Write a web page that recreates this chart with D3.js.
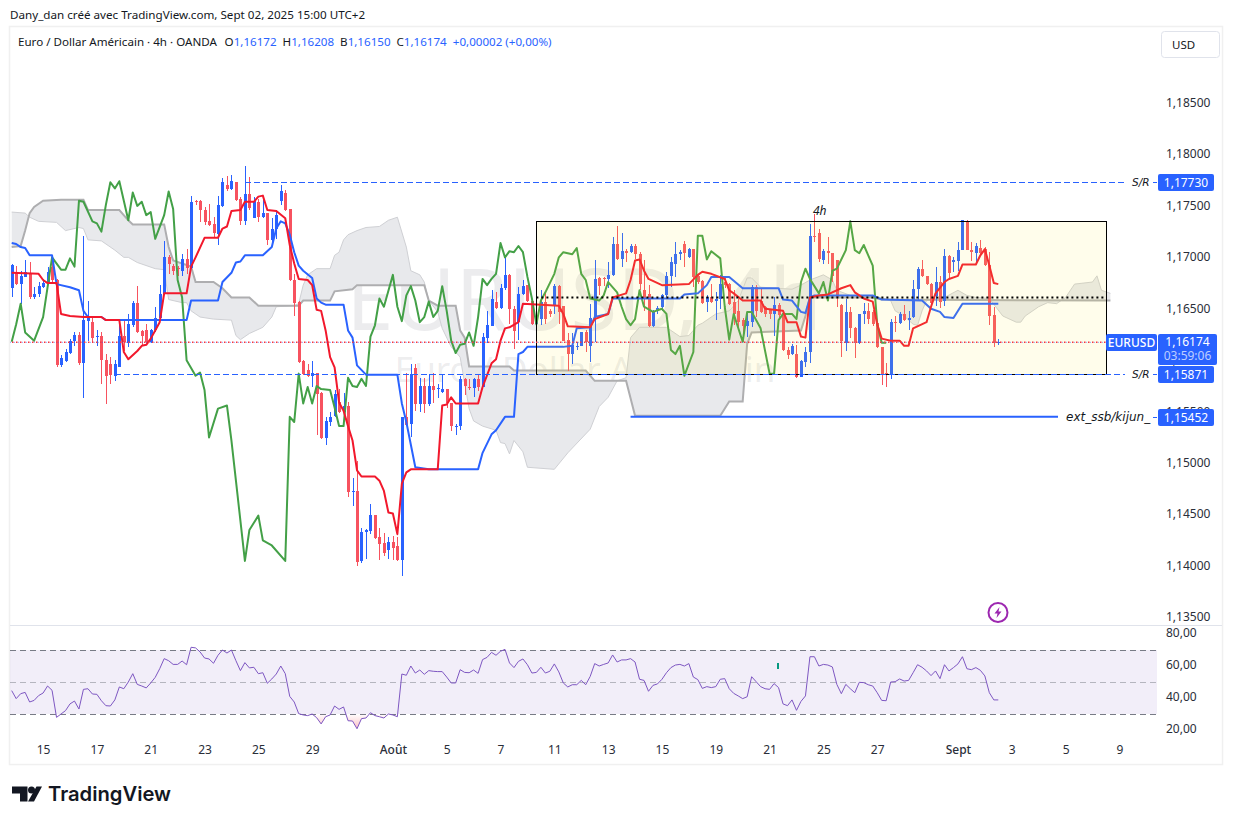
<!DOCTYPE html>
<html>
<head>
<meta charset="utf-8">
<script src="https://cdn.jsdelivr.net/npm/d3@7"></script>
<style>
  html, body { margin: 0; padding: 0; background: #fff; }
  text { font-family: "Noto Sans", sans-serif; }
</style>
</head>
<body>
<svg id="chart" width="1233" height="824"></svg>
<script>
const lastPrice = 1.16174;
const srTop = 1.1773;
const srBottom = 1.15871;
const extLevel = 1.15452;
const rangeTop = 1.1736;
const midLevel = 1.1661;

const priceTicks = [1.185, 1.18, 1.175, 1.17, 1.165, 1.16, 1.155, 1.15, 1.145, 1.14, 1.135];
const rsiTicks = [80, 60, 40, 20];
const timeTickBars = [7, 19, 31, 43, 55, 67, 85, 97, 109, 121, 133, 145, 157, 169, 181, 193, 211, 223, 235, 247];
const timeTickLabels = ['15', '17', '21', '23', '25', '29', 'Août', '5', '7', '11', '13', '15', '19', '21', '25', '27', 'Sept', '3', '5', '9'];

// open, high, low, close, one row per 4h bar
const candles = [
  [1.1670,1.1694,1.1661,1.1693],[1.1686,1.1692,1.1673,1.1674],[1.1674,1.1687,1.1655,1.1682],[1.1681,1.1697,1.1681,1.1686],[1.1685,1.1695,1.1660,1.1661],
  [1.1661,1.1671,1.1660,1.1664],[1.1664,1.1676,1.1661,1.1672],[1.1671,1.1679,1.1670,1.1675],[1.1676,1.1691,1.1674,1.1686],[1.1691,1.1700,1.1676,1.1678],
  [1.1678,1.1679,1.1593,1.1595],[1.1595,1.1605,1.1593,1.1602],[1.1599,1.1611,1.1598,1.1608],[1.1607,1.1621,1.1606,1.1619],[1.1619,1.1627,1.1614,1.1625],
  [1.1625,1.1627,1.1595,1.1597],[1.1597,1.1721,1.1563,1.1639],[1.1638,1.1658,1.1619,1.1642],[1.1637,1.1642,1.1618,1.1622],[1.1623,1.1629,1.1614,1.1624],
  [1.1624,1.1627,1.1577,1.1600],[1.1600,1.1606,1.1557,1.1585],[1.1596,1.1603,1.1577,1.1586],[1.1585,1.1600,1.1580,1.1596],[1.1593,1.1639,1.1593,1.1624],
  [1.1624,1.1639,1.1609,1.1618],[1.1617,1.1645,1.1613,1.1635],[1.1634,1.1658,1.1632,1.1656],[1.1656,1.1672,1.1626,1.1627],[1.1628,1.1629,1.1614,1.1624],
  [1.1629,1.1635,1.1617,1.1618],[1.1618,1.1630,1.1617,1.1629],[1.1629,1.1652,1.1627,1.1641],[1.1641,1.1673,1.1639,1.1664],[1.1664,1.1716,1.1663,1.1700],
  [1.1700,1.1702,1.1684,1.1694],[1.1692,1.1694,1.1683,1.1687],[1.1690,1.1692,1.1682,1.1689],[1.1687,1.1703,1.1682,1.1698],[1.1698,1.1708,1.1684,1.1690],
  [1.1690,1.1760,1.1689,1.1754],[1.1755,1.1756,1.1751,1.1754],[1.1755,1.1756,1.1734,1.1746],[1.1746,1.1749,1.1731,1.1734],[1.1735,1.1752,1.1730,1.1731],
  [1.1732,1.1739,1.1720,1.1724],[1.1723,1.1760,1.1712,1.1751],[1.1750,1.1777,1.1749,1.1773],[1.1770,1.1779,1.1764,1.1766],[1.1766,1.1780,1.1765,1.1774],
  [1.1773,1.1773,1.1755,1.1756],[1.1757,1.1759,1.1731,1.1735],[1.1735,1.1789,1.1731,1.1762],[1.1762,1.1778,1.1746,1.1748],[1.1738,1.1759,1.1738,1.1755],
  [1.1754,1.1757,1.1734,1.1739],[1.1739,1.1760,1.1738,1.1743],[1.1743,1.1743,1.1712,1.1717],[1.1717,1.1738,1.1712,1.1728],[1.1728,1.1746,1.1718,1.1741],
  [1.1755,1.1770,1.1751,1.1764],[1.1763,1.1765,1.1745,1.1746],[1.1747,1.1747,1.1677,1.1678],[1.1678,1.1684,1.1643,1.1656],[1.1657,1.1658,1.1597,1.1598],
  [1.1599,1.1600,1.1586,1.1587],[1.1591,1.1596,1.1584,1.1585],[1.1585,1.1599,1.1574,1.1588],[1.1588,1.1588,1.1527,1.1567],[1.1568,1.1569,1.1523,1.1524],
  [1.1524,1.1545,1.1518,1.1541],[1.1540,1.1550,1.1536,1.1545],[1.1546,1.1571,1.1545,1.1567],[1.1559,1.1572,1.1549,1.1550],[1.1550,1.1568,1.1549,1.1556],
  [1.1556,1.1559,1.1467,1.1472],[1.1472,1.1486,1.1458,1.1473],[1.1473,1.1502,1.1400,1.1404],[1.1405,1.1437,1.1403,1.1433],[1.1433,1.1436,1.1407,1.1435],
  [1.1434,1.1460,1.1431,1.1450],[1.1450,1.1450,1.1426,1.1427],[1.1428,1.1437,1.1406,1.1421],[1.1422,1.1432,1.1410,1.1413],[1.1416,1.1428,1.1407,1.1423],
  [1.1423,1.1429,1.1406,1.1418],[1.1419,1.1428,1.1405,1.1406],[1.1406,1.1545,1.1390,1.1545],[1.1545,1.1588,1.1536,1.1537],[1.1538,1.1596,1.1525,1.1587],
  [1.1592,1.1596,1.1551,1.1557],[1.1557,1.1583,1.1550,1.1575],[1.1575,1.1583,1.1549,1.1557],[1.1557,1.1587,1.1556,1.1575],[1.1575,1.1588,1.1558,1.1571],
  [1.1572,1.1577,1.1563,1.1573],[1.1569,1.1587,1.1568,1.1572],[1.1572,1.1572,1.1554,1.1558],[1.1558,1.1558,1.1531,1.1536],[1.1536,1.1538,1.1527,1.1536],
  [1.1536,1.1585,1.1532,1.1582],[1.1582,1.1583,1.1566,1.1575],[1.1574,1.1582,1.1571,1.1573],[1.1573,1.1583,1.1564,1.1582],[1.1582,1.1586,1.1570,1.1574],
  [1.1574,1.1626,1.1574,1.1623],[1.1622,1.1648,1.1617,1.1634],[1.1633,1.1668,1.1633,1.1660],[1.1657,1.1666,1.1650,1.1651],[1.1651,1.1674,1.1650,1.1670],
  [1.1670,1.1699,1.1668,1.1683],[1.1683,1.1684,1.1635,1.1650],[1.1650,1.1653,1.1611,1.1628],[1.1637,1.1671,1.1620,1.1664],[1.1664,1.1678,1.1663,1.1672],
  [1.1673,1.1673,1.1657,1.1658],[1.1658,1.1659,1.1634,1.1635],[1.1635,1.1650,1.1631,1.1642],[1.1640,1.1668,1.1634,1.1657],[1.1657,1.1666,1.1635,1.1640],
  [1.1648,1.1650,1.1642,1.1645],[1.1654,1.1674,1.1645,1.1672],[1.1672,1.1673,1.1635,1.1647],[1.1653,1.1653,1.1619,1.1619],[1.1620,1.1626,1.1590,1.1606],
  [1.1606,1.1626,1.1596,1.1615],[1.1613,1.1618,1.1610,1.1614],[1.1614,1.1627,1.1614,1.1627],[1.1627,1.1629,1.1608,1.1618],[1.1614,1.1655,1.1598,1.1641],
  [1.1642,1.1697,1.1618,1.1679],[1.1680,1.1681,1.1663,1.1672],[1.1680,1.1681,1.1672,1.1679],[1.1679,1.1695,1.1670,1.1683],[1.1683,1.1720,1.1682,1.1713],
  [1.1713,1.1730,1.1697,1.1698],[1.1698,1.1724,1.1691,1.1706],[1.1706,1.1708,1.1695,1.1704],[1.1705,1.1713,1.1704,1.1711],[1.1711,1.1713,1.1698,1.1703],
  [1.1703,1.1705,1.1668,1.1674],[1.1668,1.1697,1.1648,1.1660],[1.1664,1.1673,1.1632,1.1633],[1.1633,1.1649,1.1632,1.1648],[1.1648,1.1653,1.1645,1.1651],
  [1.1652,1.1664,1.1648,1.1663],[1.1663,1.1686,1.1661,1.1682],[1.1682,1.1700,1.1671,1.1695],[1.1694,1.1715,1.1681,1.1703],[1.1703,1.1707,1.1697,1.1705],
  [1.1713,1.1716,1.1691,1.1704],[1.1700,1.1709,1.1699,1.1708],[1.1708,1.1708,1.1671,1.1681],[1.1682,1.1683,1.1674,1.1676],[1.1677,1.1678,1.1655,1.1656],
  [1.1657,1.1663,1.1647,1.1661],[1.1661,1.1674,1.1656,1.1657],[1.1658,1.1666,1.1639,1.1660],[1.1660,1.1683,1.1650,1.1674],[1.1676,1.1681,1.1670,1.1673],
  [1.1674,1.1675,1.1654,1.1655],[1.1657,1.1668,1.1634,1.1645],[1.1648,1.1660,1.1629,1.1637],[1.1639,1.1641,1.1618,1.1633],[1.1633,1.1648,1.1623,1.1638],
  [1.1637,1.1673,1.1632,1.1671],[1.1671,1.1673,1.1642,1.1648],[1.1658,1.1670,1.1646,1.1647],[1.1652,1.1653,1.1642,1.1645],[1.1649,1.1650,1.1640,1.1645],
  [1.1645,1.1661,1.1624,1.1654],[1.1654,1.1656,1.1639,1.1644],[1.1646,1.1647,1.1609,1.1610],[1.1610,1.1613,1.1601,1.1605],[1.1606,1.1616,1.1605,1.1614],
  [1.1606,1.1615,1.1583,1.1584],[1.1584,1.1600,1.1584,1.1599],[1.1598,1.1613,1.1593,1.1608],[1.1608,1.1732,1.1597,1.1721],[1.1721,1.1742,1.1715,1.1720],
  [1.1724,1.1728,1.1695,1.1698],[1.1697,1.1708,1.1694,1.1706],[1.1706,1.1720,1.1694,1.1704],[1.1704,1.1704,1.1676,1.1682],[1.1697,1.1697,1.1652,1.1661],
  [1.1654,1.1655,1.1603,1.1619],[1.1617,1.1660,1.1609,1.1647],[1.1647,1.1652,1.1622,1.1631],[1.1631,1.1632,1.1602,1.1617],[1.1617,1.1645,1.1616,1.1645],
  [1.1645,1.1656,1.1635,1.1648],[1.1648,1.1656,1.1635,1.1640],[1.1647,1.1649,1.1633,1.1635],[1.1636,1.1636,1.1612,1.1613],[1.1613,1.1613,1.1576,1.1587],
  [1.1588,1.1597,1.1574,1.1586],[1.1586,1.1640,1.1582,1.1637],[1.1637,1.1643,1.1627,1.1636],[1.1636,1.1647,1.1635,1.1645],[1.1645,1.1654,1.1638,1.1639],
  [1.1639,1.1648,1.1629,1.1641],[1.1642,1.1678,1.1641,1.1669],[1.1669,1.1691,1.1658,1.1689],[1.1689,1.1697,1.1681,1.1682],[1.1682,1.1682,1.1673,1.1674],
  [1.1674,1.1675,1.1655,1.1656],[1.1662,1.1691,1.1653,1.1676],[1.1676,1.1682,1.1651,1.1657],[1.1658,1.1708,1.1653,1.1701],[1.1701,1.1702,1.1679,1.1685],
  [1.1695,1.1700,1.1686,1.1697],[1.1696,1.1715,1.1687,1.1707],[1.1707,1.1736,1.1707,1.1736],[1.1735,1.1736,1.1707,1.1707],[1.1707,1.1715,1.1696,1.1705],
  [1.1704,1.1714,1.1695,1.1711],[1.1709,1.1717,1.1702,1.1704],[1.1708,1.1710,1.1692,1.1693],[1.1693,1.1705,1.1634,1.1643],[1.1644,1.1652,1.1613,1.1617],
  [1.16172,1.16208,1.1615,1.16174]
];

// bar index, price
const tenkan = [
  [0,1.1685],[6,1.1684],[7,1.1678],[8,1.1675],[10,1.1675],[11,1.1645],[13,1.1643],[16,1.1642],[20,1.1642],[21,1.1639],[24,1.1639],
  [25,1.1608],[26,1.1601],[28,1.1609],[29,1.1614],[30,1.1615],[31,1.1621],[32,1.1629],[33,1.1637],[34,1.1665],[39,1.1665],[40,1.1691],
  [41,1.1700],[43,1.1719],[46,1.1719],[47,1.1728],[48,1.1730],[49,1.1745],[51,1.1746],[52,1.1754],[54,1.1754],[55,1.1759],[56,1.1760],
  [57,1.1746],[59,1.1745],[61,1.1738],[62,1.1712],[63,1.1694],[64,1.1679],[66,1.1678],[67,1.1673],[68,1.1649],[69,1.1648],[70,1.1629],
  [71,1.1603],[72,1.1593],[73,1.1559],[74,1.1551],[75,1.1536],[76,1.1522],[77,1.1493],[78,1.1487],[81,1.1487],[82,1.1483],[83,1.1473],
  [84,1.1452],[85,1.1451],[86,1.1431],[87,1.1480],[88,1.1491],[89,1.1494],[95,1.1494],[96,1.1556],[97,1.1557],[98,1.1564],[99,1.1558],
  [104,1.1558],[105,1.1574],[107,1.1597],[108,1.1601],[109,1.1619],[110,1.1631],[111,1.1632],[113,1.1637],[114,1.1655],[118,1.1654],
  [122,1.1653],[123,1.1645],[124,1.1633],[129,1.1632],[130,1.1640],[133,1.1645],[134,1.1661],[137,1.1665],[138,1.1678],[139,1.1697],
  [140,1.1698],[141,1.1687],[142,1.1679],[145,1.1673],[151,1.1674],[153,1.1683],[154,1.1686],[156,1.1684],[159,1.1679],[160,1.1668],
  [161,1.1665],[163,1.1658],[167,1.1658],[168,1.1650],[172,1.1648],[173,1.1637],[175,1.1637],[176,1.1623],[177,1.1622],[178,1.1661],
  [180,1.1663],[182,1.1664],[185,1.1670],[187,1.1673],[188,1.1666],[189,1.1663],[190,1.1660],[192,1.1657],[193,1.1635],[194,1.1621],
  [196,1.1619],[198,1.1619],[199,1.1614],[200,1.1614],[201,1.1631],[204,1.1637],[205,1.1652],[206,1.1665],[208,1.1676],[209,1.1679],
  [211,1.1682],[212,1.1693],[215,1.1693],[216,1.1702],[217,1.1708],[218,1.1692],[219,1.1675],[220,1.1674]
];
const kijun = [
  [0,1.1714],[1,1.1713],[2,1.1710],[3,1.1709],[4,1.1702],[9,1.1702],[10,1.1674],[13,1.1671],[15,1.1668],[16,1.1648],[17,1.1642],[20,1.1642],
  [21,1.1639],[39,1.1639],[40,1.1658],[46,1.1658],[47,1.1676],[49,1.1685],[50,1.1695],[51,1.1696],[52,1.1702],[56,1.1702],[58,1.1710],
  [59,1.1728],[60,1.1735],[61,1.1733],[62,1.1722],[63,1.1705],[64,1.1692],[65,1.1687],[67,1.1680],[68,1.1660],[69,1.1656],[70,1.1654],
  [74,1.1654],[75,1.1629],[76,1.1622],[77,1.1595],[79,1.1586],[86,1.1586],[87,1.1558],[88,1.1540],[90,1.1496],[93,1.1494],[104,1.1494],
  [105,1.1510],[107,1.1528],[108,1.1532],[110,1.1545],[112,1.1545],[113,1.1606],[114,1.1608],[115,1.1613],[123,1.1613],[125,1.1614],
  [126,1.1631],[129,1.1632],[130,1.1642],[133,1.1645],[134,1.1660],[149,1.1660],[150,1.1664],[153,1.1665],[155,1.1673],[156,1.1681],
  [160,1.1681],[163,1.1670],[171,1.1670],[172,1.1659],[174,1.1658],[176,1.1647],[177,1.1646],[178,1.1661],[179,1.1663],[192,1.1663],
  [194,1.1659],[203,1.1658],[205,1.1650],[207,1.1647],[208,1.1642],[210,1.1641],[212,1.1655],[220,1.1655]
];
const chikou = [
  [0,1.1618],[1,1.1635],[2,1.1655],[3,1.1627],[5,1.1619],[7,1.1642],[8,1.1671],[9,1.1700],[11,1.1688],[12,1.1688],[13,1.1699],[14,1.1691],
  [15,1.1755],[16,1.1754],[18,1.1735],[19,1.1733],[20,1.1725],[21,1.1751],[22,1.1773],[23,1.1767],[24,1.1774],[26,1.1736],[27,1.1763],
  [28,1.1750],[29,1.1754],[30,1.1741],[31,1.1744],[32,1.1718],[34,1.1741],[35,1.1764],[36,1.1747],[37,1.1678],[38,1.1661],[39,1.1600],
  [41,1.1585],[42,1.1588],[43,1.1571],[44,1.1525],[46,1.1553],[48,1.1556],[49,1.1522],[50,1.1483],[52,1.1405],[53,1.1435],[55,1.1449],
  [56,1.1425],[58,1.1420],[61,1.1405],[62,1.1545],[63,1.1540],[64,1.1587],[65,1.1558],[66,1.1574],[67,1.1558],[68,1.1575],[69,1.1572],
  [71,1.1571],[72,1.1554],[73,1.1536],[74,1.1536],[75,1.1583],[76,1.1575],[77,1.1574],[78,1.1582],[79,1.1575],[80,1.1623],[81,1.1634],
  [82,1.1660],[83,1.1652],[85,1.1683],[86,1.1652],[87,1.1638],[88,1.1663],[89,1.1672],[90,1.1658],[91,1.1637],[92,1.1642],[93,1.1657],
  [94,1.1642],[95,1.1648],[96,1.1672],[97,1.1648],[98,1.1619],[99,1.1607],[100,1.1615],[101,1.1616],[102,1.1627],[103,1.1614],[104,1.1642],
  [105,1.1679],[106,1.1673],[107,1.1679],[108,1.1684],[109,1.1714],[110,1.1700],[111,1.1706],[112,1.1705],[113,1.1711],[114,1.1705],
  [115,1.1681],[116,1.1660],[117,1.1635],[118,1.1658],[119,1.1666],[121,1.1684],[122,1.1700],[123,1.1705],[125,1.1703],[126,1.1709],
  [127,1.1684],[128,1.1678],[129,1.1660],[131,1.1658],[132,1.1663],[133,1.1676],[135,1.1666],[136,1.1652],[137,1.1640],[138,1.1634],
  [139,1.1640],[140,1.1668],[141,1.1652],[143,1.1647],[145,1.1650],[146,1.1645],[147,1.1610],[148,1.1606],[149,1.1614],[150,1.1585],
  [152,1.1608],[153,1.1721],[154,1.1721],[155,1.1698],[156,1.1706],[158,1.1699],[159,1.1652],[160,1.1620],[161,1.1645],[163,1.1618],
  [164,1.1647],[165,1.1647],[167,1.1631],[169,1.1587],[170,1.1587],[171,1.1639],[172,1.1645],[174,1.1645],[175,1.1640],[176,1.1676],
  [177,1.1689],[178,1.1679],[180,1.1665],[181,1.1676],[182,1.1658],[183,1.1687],[184,1.1689],[186,1.1707],[187,1.1735],[188,1.1707],
  [189,1.1704],[190,1.1712],[191,1.1702],[192,1.1692],[193,1.1635],[194,1.1617],[195,1.1617]
];
const spanA = [
  [0,1.1744],[3,1.1743],[4,1.1739],[6,1.1735],[10,1.1734],[12,1.1726],[13,1.1727],[15,1.1729],[16,1.1728],[17,1.1717],[20,1.1716],[23,1.1707],
  [25,1.1700],[26,1.1700],[28,1.1695],[32,1.1689],[34,1.1688],[35,1.1659],[38,1.1656],[39,1.1656],[40,1.1648],[42,1.1642],[45,1.1640],
  [49,1.1639],[50,1.1624],[51,1.1620],[53,1.1626],[56,1.1632],[58,1.1642],[59,1.1652],[63,1.1653],[64,1.1655],[65,1.1673],[66,1.1683],
  [68,1.1689],[71,1.1689],[72,1.1702],[73,1.1705],[74,1.1717],[75,1.1722],[77,1.1726],[79,1.1729],[82,1.1730],[84,1.1736],[86,1.1739],
  [88,1.1710],[89,1.1687],[91,1.1683],[92,1.1676],[93,1.1658],[95,1.1647],[96,1.1631],[98,1.1613],[100,1.1603],[102,1.1553],[103,1.1541],
  [105,1.1536],[108,1.1532],[109,1.1520],[110,1.1519],[111,1.1509],[112,1.1522],[114,1.1511],[115,1.1496],[121,1.1494],[124,1.1510],
  [129,1.1533],[131,1.1555],[133,1.1564],[135,1.1580],[137,1.1583],[138,1.1622],[140,1.1632],[146,1.1632],[149,1.1623],[151,1.1624],
  [153,1.1634],[154,1.1636],[157,1.1645],[160,1.1648],[162,1.1658],[164,1.1680],[165,1.1680],[167,1.1671],[174,1.1669],[176,1.1673],
  [178,1.1678],[181,1.1683],[183,1.1678],[184,1.1668],[187,1.1663],[192,1.1663],[196,1.1658],[197,1.1648],[199,1.1643],[201,1.1635],
  [202,1.1634],[203,1.1648],[204,1.1658],[208,1.1661],[211,1.1668],[213,1.1663],[215,1.1661],[218,1.1660],[221,1.1643],[224,1.1637],
  [225,1.1637],[226,1.1643],[229,1.1652],[231,1.1656],[233,1.1655],[235,1.1661],[237,1.1674],[241,1.1676],[242,1.1682],[243,1.1668],[245,1.1665]
];
const spanB = [
  [0,1.1710],[2,1.1711],[3,1.1726],[4,1.1743],[5,1.1749],[7,1.1755],[11,1.1756],[16,1.1756],[17,1.1746],[24,1.1746],[26,1.1736],[27,1.1732],
  [34,1.1732],[35,1.1710],[36,1.1697],[40,1.1691],[41,1.1676],[45,1.1676],[47,1.1670],[49,1.1661],[53,1.1661],[55,1.1653],[64,1.1653],
  [65,1.1658],[71,1.1658],[72,1.1667],[76,1.1669],[77,1.1673],[92,1.1673],[93,1.1658],[95,1.1653],[99,1.1653],[100,1.1629],[101,1.1622],
  [102,1.1594],[111,1.1594],[112,1.1590],[128,1.1590],[130,1.1580],[137,1.1580],[139,1.1546],[158,1.1546],[160,1.1560],[163,1.1560],
  [164,1.1616],[165,1.1627],[176,1.1629],[177,1.1643],[178,1.1661],[192,1.1661],[194,1.1659],[245,1.1658]
];

const rsi = [
  44.6,39.6,42.7,43.5,37.5,38.5,41.5,43.1,47.5,44.8,
  27.9,30,32.1,36.3,38.1,33.1,45.4,45.8,42.5,42.3,
  38.3,35.2,35,38.8,46.9,45.8,50,55.2,48.5,47.5,
  46.3,49.4,52.9,58.3,64.6,63.3,61,61,63.1,60.8,
  71.7,71.3,68.8,65,64.4,61.7,66.7,70,68.1,70,
  63.3,57.1,62.1,58.8,59.2,55.2,55.8,49.2,51.9,55,
  60,55.2,41,37.5,30.2,29.4,29,30,27.7,23.8,
  28.3,29.4,35,32.9,34.4,25.8,25.6,20.8,27.1,27.5,
  30.8,29,28.3,27.5,30,29.4,28.3,55,54.2,60,
  55.6,57.5,54.8,57.1,56.7,56.5,56.5,53.1,49.4,49.4,
  57.7,56,55.8,57.5,55.4,64,65.4,68.5,66.7,69.2,
  70.4,61.9,59,62.9,64.4,60.8,55.6,56,59.2,55.6,
  56.7,61.3,56.3,49.4,46.9,48.3,48.3,51,48.3,53.5,
  61.5,60,61,61.9,66.9,62.5,
  63.8,63.8,64.6,62.5,51.7,51,44.2,47.9,48.8,51.7,
  55.8,59,60.6,61,60,61.5,53.1,51.5,46,47.1,
  46.5,47.1,51.7,52.1,45.8,42.9,41.3,39.6,40.8,53.3,
  50.2,47.1,45.8,45.4,49,46.5,36.3,35.2,38.8,32.3,
  37.9,41.3,65.8,65.8,60,61,60.6,59.4,48.5,42.7,
  48.5,45.8,43.3,49.8,49.6,48.3,47.5,43.3,38.5,38.3,
  50,50.2,51.9,50.6,51,55.8,60.8,59.2,56.9,54,
  56.9,52.1,60.8,56.9,59,61.3,65.8,58.3,57.7,59,
  57.3,53.8,43.3,38.8,38.8
];
const rsiBands = [70, 50, 30];

const colors = { up: '#2962ff', down: '#f7525f', tenkan: '#f2182c', kijun: '#2962ff', chikou: '#43a047', text: '#131722', axis: '#2a2e39' };

const paneLeft = 10;
const paneRight = 1157;
const svg = d3.select('#chart');

const x = d3.scaleLinear().domain([0, 220]).range([11.7, 998.3]);
const y = d3.scaleLinear().domain([1.135, 1.185]).range([617.5, 103]);
const yRsi = d3.scaleLinear().domain([30, 70]).range([714, 650]);
const line = d3.line().x((d) => x(d[0])).y((d) => y(d[1]));
// horizontal drawings sit on whole pixel rows
const snap = (level) => Math.round(y(level) + 0.2) + 0.5;

// frame and pane split
svg.append('rect').attr('x', 9.5).attr('y', 26.5).attr('width', 1213).attr('height', 738)
  .attr('fill', '#fff').attr('stroke', '#f0f0f0').attr('stroke-width', 1.5);
svg.append('line').attr('x1', 10).attr('x2', 1222).attr('y1', 625.5).attr('y2', 625.5).attr('stroke', '#e0e3eb');

const defs = svg.append('defs');
defs.append('clipPath').attr('id', 'mainClip').append('rect')
  .attr('x', paneLeft).attr('y', 28).attr('width', paneRight - paneLeft).attr('height', 597);
defs.append('clipPath').attr('id', 'rsiLow').append('rect')
  .attr('x', paneLeft).attr('y', yRsi(30)).attr('width', paneRight - paneLeft).attr('height', 40);
const oversold = defs.append('linearGradient').attr('id', 'oversold').attr('gradientUnits', 'userSpaceOnUse')
  .attr('x1', 0).attr('x2', 0).attr('y1', yRsi(30)).attr('y2', yRsi(20));
oversold.append('stop').attr('offset', 0).attr('stop-color', '#f23645').attr('stop-opacity', 0);
oversold.append('stop').attr('offset', 1).attr('stop-color', '#f23645').attr('stop-opacity', 0.35);

const main = svg.append('g').attr('clip-path', 'url(#mainClip)');

// watermark
main.append('text').attr('x', 584).attr('y', 330).attr('text-anchor', 'middle')
  .attr('font-size', 85).attr('fill', '#787b86').attr('fill-opacity', 0.14).text('EURUSD, 4h');
main.append('text').attr('x', 585).attr('y', 382).attr('text-anchor', 'middle')
  .attr('font-size', 35).attr('fill', '#787b86').attr('fill-opacity', 0.14).text('Euro / Dollar Américain');

// cloud: span A forward then span B back
main.append('path').attr('d', line(spanA.concat(spanB.slice().reverse())) + 'Z').attr('fill', '#e8e9ec');
main.append('path').attr('d', line(spanA)).attr('fill', 'none').attr('stroke', '#cfd0d4').attr('stroke-width', 1);
main.append('path').attr('d', line(spanB)).attr('fill', 'none').attr('stroke', '#aeaeb0').attr('stroke-width', 2);

// candles
const candle = main.append('g').selectAll('g').data(candles).join('g')
  .attr('fill', (d) => (d[3] >= d[0] ? colors.up : colors.down))
  .attr('shape-rendering', 'crispEdges');
candle.append('rect')
  .attr('x', (d, i) => Math.round(x(i)))
  .attr('width', 1)
  .attr('y', (d) => y(d[1]))
  .attr('height', (d) => y(d[2]) - y(d[1]));
candle.append('rect')
  .attr('x', (d, i) => Math.round(x(i)) - 1)
  .attr('width', 3)
  .attr('y', (d) => y(Math.max(d[0], d[3])))
  .attr('height', (d) => Math.max(1, Math.abs(y(d[0]) - y(d[3]))));

// ichimoku lines
[[chikou, colors.chikou], [kijun, colors.kijun], [tenkan, colors.tenkan]].forEach(([series, stroke]) => {
  main.append('path').attr('d', line(series)).attr('fill', 'none').attr('stroke', stroke)
    .attr('stroke-width', 2).attr('stroke-linejoin', 'round');
});

// range box
main.append('rect')
  .attr('x', Math.round(x(117)) + 0.5).attr('width', x(244) - x(117))
  .attr('y', snap(rangeTop)).attr('height', snap(srBottom) - snap(rangeTop))
  .attr('fill', '#ffeb3b').attr('fill-opacity', 0.1).attr('stroke', '#000').attr('stroke-width', 1)
  .attr('shape-rendering', 'crispEdges');
main.append('line').attr('x1', x(117)).attr('x2', x(244)).attr('y1', y(midLevel)).attr('y2', y(midLevel))
  .attr('stroke', '#000').attr('stroke-width', 2).attr('stroke-dasharray', '2 3');

// levels
const dashed = (from, level) => main.append('line')
  .attr('x1', x(from)).attr('x2', 1125).attr('y1', snap(level)).attr('y2', snap(level))
  .attr('stroke', colors.up).attr('stroke-dasharray', '6 3').attr('shape-rendering', 'crispEdges');
dashed(52, srTop);
dashed(23, srBottom);
main.append('line').attr('x1', x(138)).attr('x2', 1058).attr('y1', y(extLevel)).attr('y2', y(extLevel))
  .attr('stroke', colors.up).attr('stroke-width', 2);
[srTop, srBottom, extLevel].forEach((level) => {
  main.append('line').attr('x1', 1153).attr('x2', paneRight).attr('y1', snap(level)).attr('y2', snap(level))
    .attr('stroke', colors.up).attr('shape-rendering', 'crispEdges');
});
main.append('line').attr('x1', paneLeft).attr('x2', 1106).attr('y1', y(lastPrice)).attr('y2', y(lastPrice))
  .attr('stroke', colors.up).attr('stroke-dasharray', '1 3').attr('stroke-opacity', 0.5);
main.append('line').attr('x1', paneLeft + 2).attr('x2', 1106).attr('y1', y(lastPrice)).attr('y2', y(lastPrice))
  .attr('stroke', '#f23645').attr('stroke-width', 1.5).attr('stroke-dasharray', '1.5 2.5');

const note = (tx, level, label, size) => svg.append('text').attr('x', tx).attr('y', y(level) + 4)
  .attr('font-size', size).attr('font-style', 'italic').attr('fill', colors.text)
  .style('font-family', '"DejaVu Sans", sans-serif').text(label);
note(1132, srTop, 'S/R', 10.5);
note(1132, srBottom, 'S/R', 10.5);
note(1066, extLevel, 'ext_ssb/kijun_', 12);
svg.append('text').attr('x', 813).attr('y', 215).attr('font-size', 12).attr('font-style', 'italic')
  .attr('fill', colors.text).text('4h');

// rsi pane
const rsiGroup = svg.append('g');
rsiGroup.append('rect').attr('x', paneLeft).attr('width', paneRight - paneLeft)
  .attr('y', yRsi(70)).attr('height', yRsi(30) - yRsi(70)).attr('fill', '#7e57c2').attr('fill-opacity', 0.1);
rsiGroup.selectAll('line').data(rsiBands).join('line')
  .attr('x1', paneLeft).attr('x2', paneRight).attr('y1', (d) => yRsi(d)).attr('y2', (d) => yRsi(d))
  .attr('stroke', '#787b86').attr('stroke-dasharray', '6 4').attr('shape-rendering', 'crispEdges')
  .attr('stroke-opacity', (d) => (d === 50 ? 0.5 : 1));
rsiGroup.append('path')
  .attr('d', d3.area().x((d, i) => x(i)).y0(yRsi(30)).y1((d) => yRsi(d))(rsi))
  .attr('clip-path', 'url(#rsiLow)').attr('fill', 'url(#oversold)');
rsiGroup.append('path')
  .attr('d', d3.line().x((d, i) => x(i)).y((d) => yRsi(d))(rsi))
  .attr('fill', 'none').attr('stroke', '#7e57c2').attr('stroke-width', 1);
rsiGroup.append('rect').attr('x', 777).attr('y', 663).attr('width', 2).attr('height', 6).attr('fill', '#089981');

// axes
const priceFormat = (d) => d3.format('.5f')(d).replace('.', ',');
const rsiFormat = (d) => d3.format('.2f')(d).replace('.', ',');
const axisFont = (g) => {
  g.select('.domain').remove();
  g.selectAll('.tick line').remove();
  g.selectAll('text').attr('font-size', 12).attr('fill', colors.axis);
};
svg.append('g').attr('transform', 'translate(1166,-0.5)')
  .call(d3.axisRight(y).tickValues(priceTicks).tickFormat(priceFormat).tickSize(0).tickPadding(0))
  .call(axisFont);
svg.append('g').attr('transform', 'translate(1166,-1.5)')
  .call(d3.axisRight(yRsi).tickValues(rsiTicks).tickFormat(rsiFormat).tickSize(0).tickPadding(0))
  .call(axisFont);
svg.append('g').attr('transform', 'translate(0,745)')
  .call(d3.axisBottom(x).tickValues(timeTickBars).tickFormat((d, i) => timeTickLabels[i]).tickSize(0).tickPadding(0))
  .call(axisFont)
  .call((g) => g.selectAll('text').attr('y', 0).attr('dy', '0.71em')
    .attr('font-weight', (d, i) => (timeTickLabels[i].length > 2 ? 500 : 400)));

// price tags
const tag = (tx, ty, tw, th, label) => {
  svg.append('rect').attr('x', tx).attr('y', ty).attr('width', tw).attr('height', th).attr('rx', 2).attr('fill', colors.up);
  return svg.append('text').attr('x', tx + tw / 2).attr('y', ty + th / 2 + 4).attr('text-anchor', 'middle')
    .attr('font-size', 12).attr('fill', '#fff').text(label);
};
const tagY = (level) => snap(level) - 8.5;
tag(1106, 334, 51, 17, 'EURUSD').attr('font-weight', 500);
svg.append('rect').attr('x', 1158).attr('y', 334).attr('width', 59).attr('height', 31).attr('rx', 2).attr('fill', colors.up);
svg.append('text').attr('x', 1187.5).attr('y', 346).attr('text-anchor', 'middle').attr('font-size', 12).attr('fill', '#fff').text(priceFormat(lastPrice));
svg.append('text').attr('x', 1187.5).attr('y', 360).attr('text-anchor', 'middle').attr('font-size', 12).attr('fill', '#fff').attr('fill-opacity', 0.7).text('03:59:06');
tag(1158, tagY(srTop), 56, 17, priceFormat(srTop));
tag(1158, tagY(srBottom), 56, 17, priceFormat(srBottom));
tag(1158, tagY(extLevel), 56, 17, priceFormat(extLevel));

// header
svg.append('text').attr('x', 10).attr('y', 19).attr('font-size', 11.65).attr('fill', colors.text)
  .text('Dany_dan créé avec TradingView.com, Sept 02, 2025 15:00 UTC+2');
const header = svg.append('text').attr('x', 18).attr('y', 46).attr('font-size', 11.6).attr('fill', colors.text);
header.append('tspan').text('Euro / Dollar Américain · 4h · OANDA');
[['O', '1,16172', 8], ['H', '1,16208', 6], ['B', '1,16150', 6], ['C', '1,16174', 6]].forEach(([k, v, gap]) => {
  header.append('tspan').attr('dx', gap).text(k);
  header.append('tspan').attr('fill', colors.up).text(v);
});
header.append('tspan').attr('dx', 6).attr('fill', colors.up).text('+0,00002 (+0,00%)');

svg.append('rect').attr('x', 1161.5).attr('y', 31.5).attr('width', 58).attr('height', 26).attr('rx', 3)
  .attr('fill', '#fff').attr('stroke', '#e0e3eb');
svg.append('text').attr('x', 1172).attr('y', 48.5).attr('font-size', 11.5).attr('fill', colors.text).text('USD');

// lightning badge
const badge = svg.append('g').attr('transform', 'translate(998,612.5)');
badge.append('circle').attr('r', 9.5).attr('fill', '#fff').attr('stroke', '#9c27b0').attr('stroke-width', 2);
badge.append('path').attr('d', 'M1.5,-5.5 L-3.5,1 L-0.5,1 L-1.5,5.5 L3.5,-1 L0.5,-1 Z').attr('fill', '#9c27b0');

// logo
const logo = svg.append('g').attr('fill', '#131722');
logo.append('path').attr('d', 'M12,786.5 H27.5 V801.5 H20 V793.5 H12 Z');
logo.append('circle').attr('cx', 31.5).attr('cy', 790).attr('r', 3.5);
logo.append('path').attr('d', 'M36.5,786.5 H42 L34,801.5 H28 Z');
svg.append('text').attr('x', 48).attr('y', 801).attr('font-size', 20.2)
  .attr('font-weight', 600).attr('fill', '#131722').style('font-family', 'Inter, sans-serif').text('TradingView');
</script>
</body>
</html>
